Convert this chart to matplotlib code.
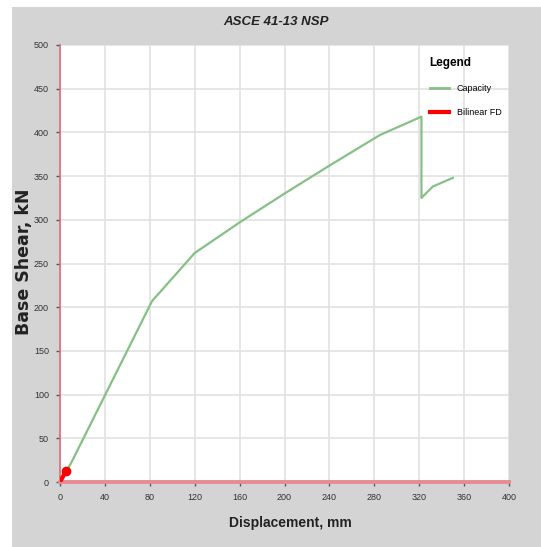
import matplotlib

matplotlib.use("Agg")

import matplotlib.pyplot as plt  # noqa: E402
from matplotlib.lines import Line2D  # noqa: E402
from matplotlib.patches import Rectangle  # noqa: E402

# capacity (pushover) curve
cap_disp = [0, 10, 82, 120, 160, 200, 240, 285, 322, 322, 332, 350]
cap_shear = [0, 22, 207, 262, 297, 330, 362, 397, 418, 325, 338, 348]

# bilinear force-displacement (tiny, near the origin)
bil_disp = [0, 3, 5]
bil_shear = [0, 7, 13]

x_ticks = [0, 40, 80, 120, 160, 200, 240, 280, 320, 360, 400]
y_ticks = [0, 50, 100, 150, 200, 250, 300, 350, 400, 450, 500]

W, H = 541, 547
fig = plt.figure(figsize=(W / 100, H / 100), dpi=100, facecolor="white")
bg = Rectangle((12 / W, 0), 1 - 12 / W, 1 - 7 / H, transform=fig.transFigure,
               facecolor="#d4d4d4", edgecolor="none", zorder=-10)
fig.patches.append(bg)

ax = fig.add_axes([60 / W, (H - 482) / H, (509 - 60) / W, (482 - 45) / H])
ax.set_facecolor("white")

ax.plot(cap_disp, cap_shear, color="#86c086", linewidth=1.6, zorder=3)
ax.plot(bil_disp, bil_shear, color="#ff0000", linewidth=3, zorder=4,
        solid_capstyle="round")
ax.plot(bil_disp[-1:], bil_shear[-1:], "o", color="#ff0000", markersize=6,
        zorder=4)

ax.set_xlim(0, 400)
ax.set_ylim(0, 500)
ax.set_xticks(x_ticks)
ax.set_yticks(y_ticks)
ax.grid(True, color="#e2e2e2", linewidth=1.2)
ax.set_axisbelow(True)

narrow = ["Liberation Sans Narrow", "Liberation Sans", "DejaVu Sans"]
ax.tick_params(length=3, width=1, color="#555555", labelcolor="#333333",
               labelsize=6.5, pad=5)
for lbl in ax.get_xticklabels() + ax.get_yticklabels():
    lbl.set_family(narrow)

for side in ("top", "right"):
    ax.spines[side].set_visible(False)
ax.spines["left"].set_color("#e06a76")
ax.spines["left"].set_linewidth(1.2)
ax.spines["bottom"].set_color("#e88a92")
ax.spines["bottom"].set_linewidth(2.8)

fig.text(276 / W, 1 - 22 / H, "ASCE 41-13 NSP", ha="center", va="center",
         fontsize=9.5, fontweight="bold", fontstyle="italic",
         family=narrow, color="#222222")
fig.text(290 / W, 1 - 523 / H, "Displacement, mm", ha="center", va="center",
         fontsize=10, fontweight="bold", family=narrow, color="#222222")
fig.text(24 / W, 1 - 262 / H, "Base Shear, kN", ha="center", va="center",
         rotation=90, fontsize=12.5, fontweight="bold", family="DejaVu Sans",
         color="#222222")

handles = [
    Line2D([], [], color="#86c086", linewidth=2),
    Line2D([], [], color="#ff0000", linewidth=3),
]
leg = ax.legend(handles, ["Capacity", "Bilinear FD"], title="Legend",
                loc="upper left", bbox_to_anchor=(0.805, 0.99), frameon=False,
                handlelength=2.2, labelspacing=1.65,
                prop={"family": narrow, "size": 6.5})
leg._legend_box.align = "left"
leg.get_title().set_fontweight("bold")
leg.get_title().set_fontsize(8.5)
leg.get_title().set_family(narrow)

fig.savefig("out.png", dpi=100, facecolor="white")
